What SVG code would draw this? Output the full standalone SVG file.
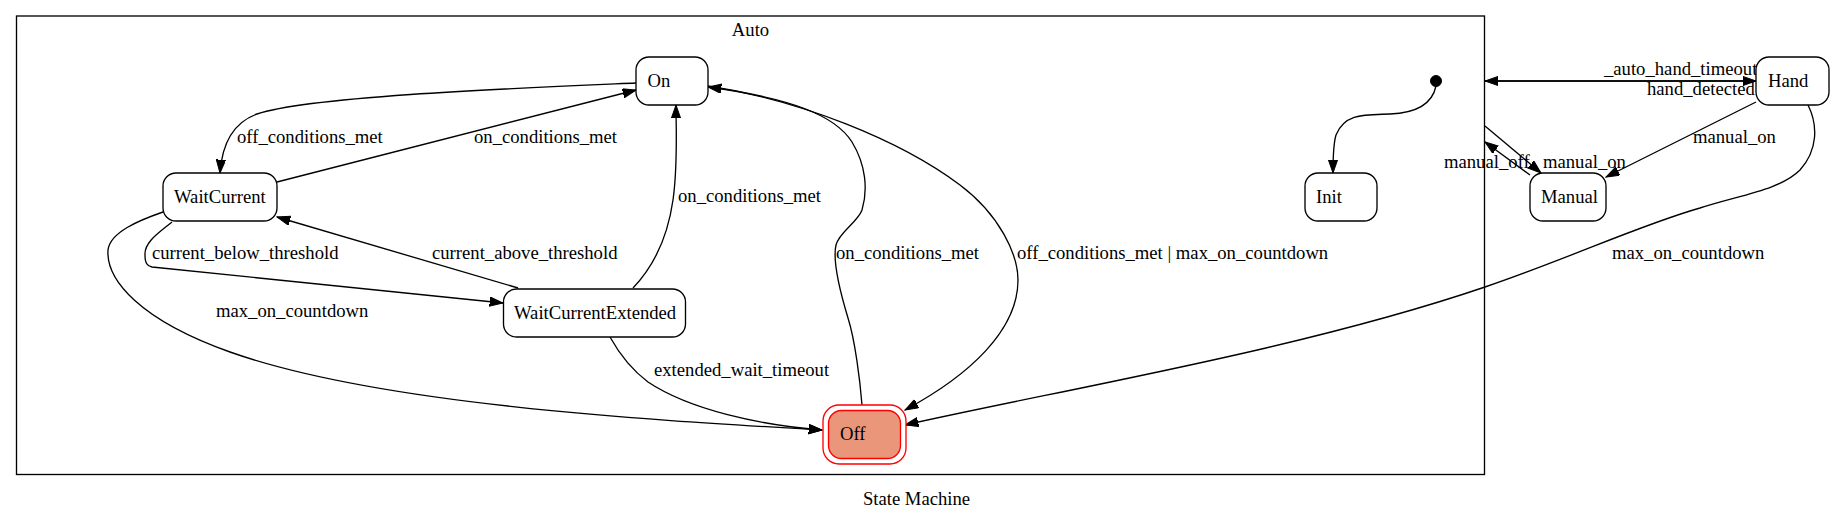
<svg xmlns="http://www.w3.org/2000/svg" width="1833" height="521" viewBox="0 0 1833 521">
<style>
text{font-family:"Liberation Serif","Times New Roman",serif;font-size:18.67px;fill:#000}
.n{fill:#fff;stroke:#000;stroke-width:1.33}
.e{fill:none;stroke:#000;stroke-width:1.33;marker-end:url(#ah)}
.c{fill:none;stroke:#000;stroke-width:1.33}
.mid{text-anchor:middle}
</style>
<defs>
<marker id="ah" markerUnits="userSpaceOnUse" markerWidth="14" markerHeight="10" refX="13.3" refY="4.67" orient="auto">
<path d="M0,0 L13.3,4.67 L0,9.33 z" fill="#000" stroke="#000" stroke-width="1"/>
</marker>
</defs>
<rect x="0" y="0" width="1833" height="521" fill="#fff"/>
<g id="cluster_Auto">
<rect class="c" x="16.5" y="16" width="1468" height="458.5"/>
<text class="mid" x="750.5" y="35.5">Auto</text>
</g>
<g id="connectors">
<path class="e" d="M636,83 C520,88 310,96 257,114 C232,123 222,145 220,173"/>
<text x="237" y="143">off_conditions_met</text>
<path class="e" d="M277,182 L636,90"/>
<text x="474" y="143">on_conditions_met</text>
<path class="e" d="M172,222 C160,232 144,242 145,255 C145,263 147,266 152,267 L503,303"/>
<text x="152" y="259">current_below_threshold</text>
<path class="e" d="M518,288 L277,217"/>
<text x="432" y="259">current_above_threshold</text>
<path class="e" d="M633,288 C655,265 668,235 673,200 C678,165 676,130 676,105"/>
<text x="678" y="202">on_conditions_met</text>
<path class="e" d="M163,212 C140,220 110,232 108,250 C106,280 140,320 230,352 C380,405 650,420 822,430"/>
<text x="216" y="317">max_on_countdown</text>
<path class="e" d="M610,337 C620,355 632,370 648,382 C690,410 760,425 822,430"/>
<text x="654" y="376">extended_wait_timeout</text>
<path class="e" d="M862,405 C860,380 855,340 848,318 C838,285 833,258 836,245 C839,232 858,222 862,210 C868,190 866,165 852,142 C835,115 790,98 708,87"/>
<text x="836" y="259">on_conditions_met</text>
<path class="e" d="M708,86 C800,100 900,140 960,185 C1000,215 1018,255 1018,280 C1018,330 970,375 905,410"/>
<text x="1017" y="259">off_conditions_met | max_on_countdown</text>
<path class="e" d="M1436,86 C1432,105 1415,113 1390,114 C1365,115 1345,113 1336,135 C1333,145 1333,160 1333,173"/>
<path class="e" d="M1756,81 L1485,81"/>
<text x="1604" y="75">_auto_hand_timeout</text>
<path class="e" d="M1485,81 L1756,81"/>
<text x="1647" y="95">hand_detected</text>
<path class="e" d="M1485,126 L1541,173"/>
<text x="1543" y="168">manual_on</text>
<path class="e" d="M1530,175 L1485,142"/>
<text x="1444" y="168">manual_off</text>
<path class="e" d="M1756,102 L1606,177"/>
<text x="1693" y="143">manual_on</text>
<path class="e" d="M1808,105 C1818,125 1818,150 1800,170 C1780,190 1740,195 1700,208 C1640,225 1570,258 1485,287 C1300,350 1060,390 905,425"/>
<text x="1612" y="259">max_on_countdown</text>
</g>
<g id="node_On">
<rect class="n" x="636" y="57" width="72" height="48" rx="13"/>
<text x="647.5" y="86.5">On</text>
</g>
<g id="node_WaitCurrent">
<rect class="n" x="163" y="173" width="114" height="48" rx="13"/>
<text x="174" y="202.5">WaitCurrent</text>
</g>
<g id="node_WaitCurrentExtended">
<rect class="n" x="503.5" y="289" width="182" height="48" rx="13"/>
<text x="514" y="318.5">WaitCurrentExtended</text>
</g>
<g id="node_Off">
<rect x="823" y="405" width="83" height="59" rx="16" fill="#fff" stroke="#ff0000" stroke-width="1.33"/>
<rect x="828.5" y="410.5" width="72" height="48" rx="13" fill="#e9967a" stroke="#ff0000" stroke-width="1.33"/>
<text x="840" y="440">Off</text>
</g>
<g id="node_initial">
<circle cx="1436" cy="81" r="5.5" fill="#000" stroke="#000"/>
</g>
<g id="node_Init">
<rect class="n" x="1305" y="173" width="72" height="48" rx="13"/>
<text x="1316" y="202.5">Init</text>
</g>
<g id="node_Manual">
<rect class="n" x="1530" y="173" width="76" height="48" rx="13"/>
<text x="1541" y="202.5">Manual</text>
</g>
<g id="node_Hand">
<rect class="n" x="1756" y="57" width="73" height="48" rx="13"/>
<text x="1768" y="86.5">Hand</text>
</g>
<text class="mid" x="916.5" y="505">State Machine</text>
</svg>
